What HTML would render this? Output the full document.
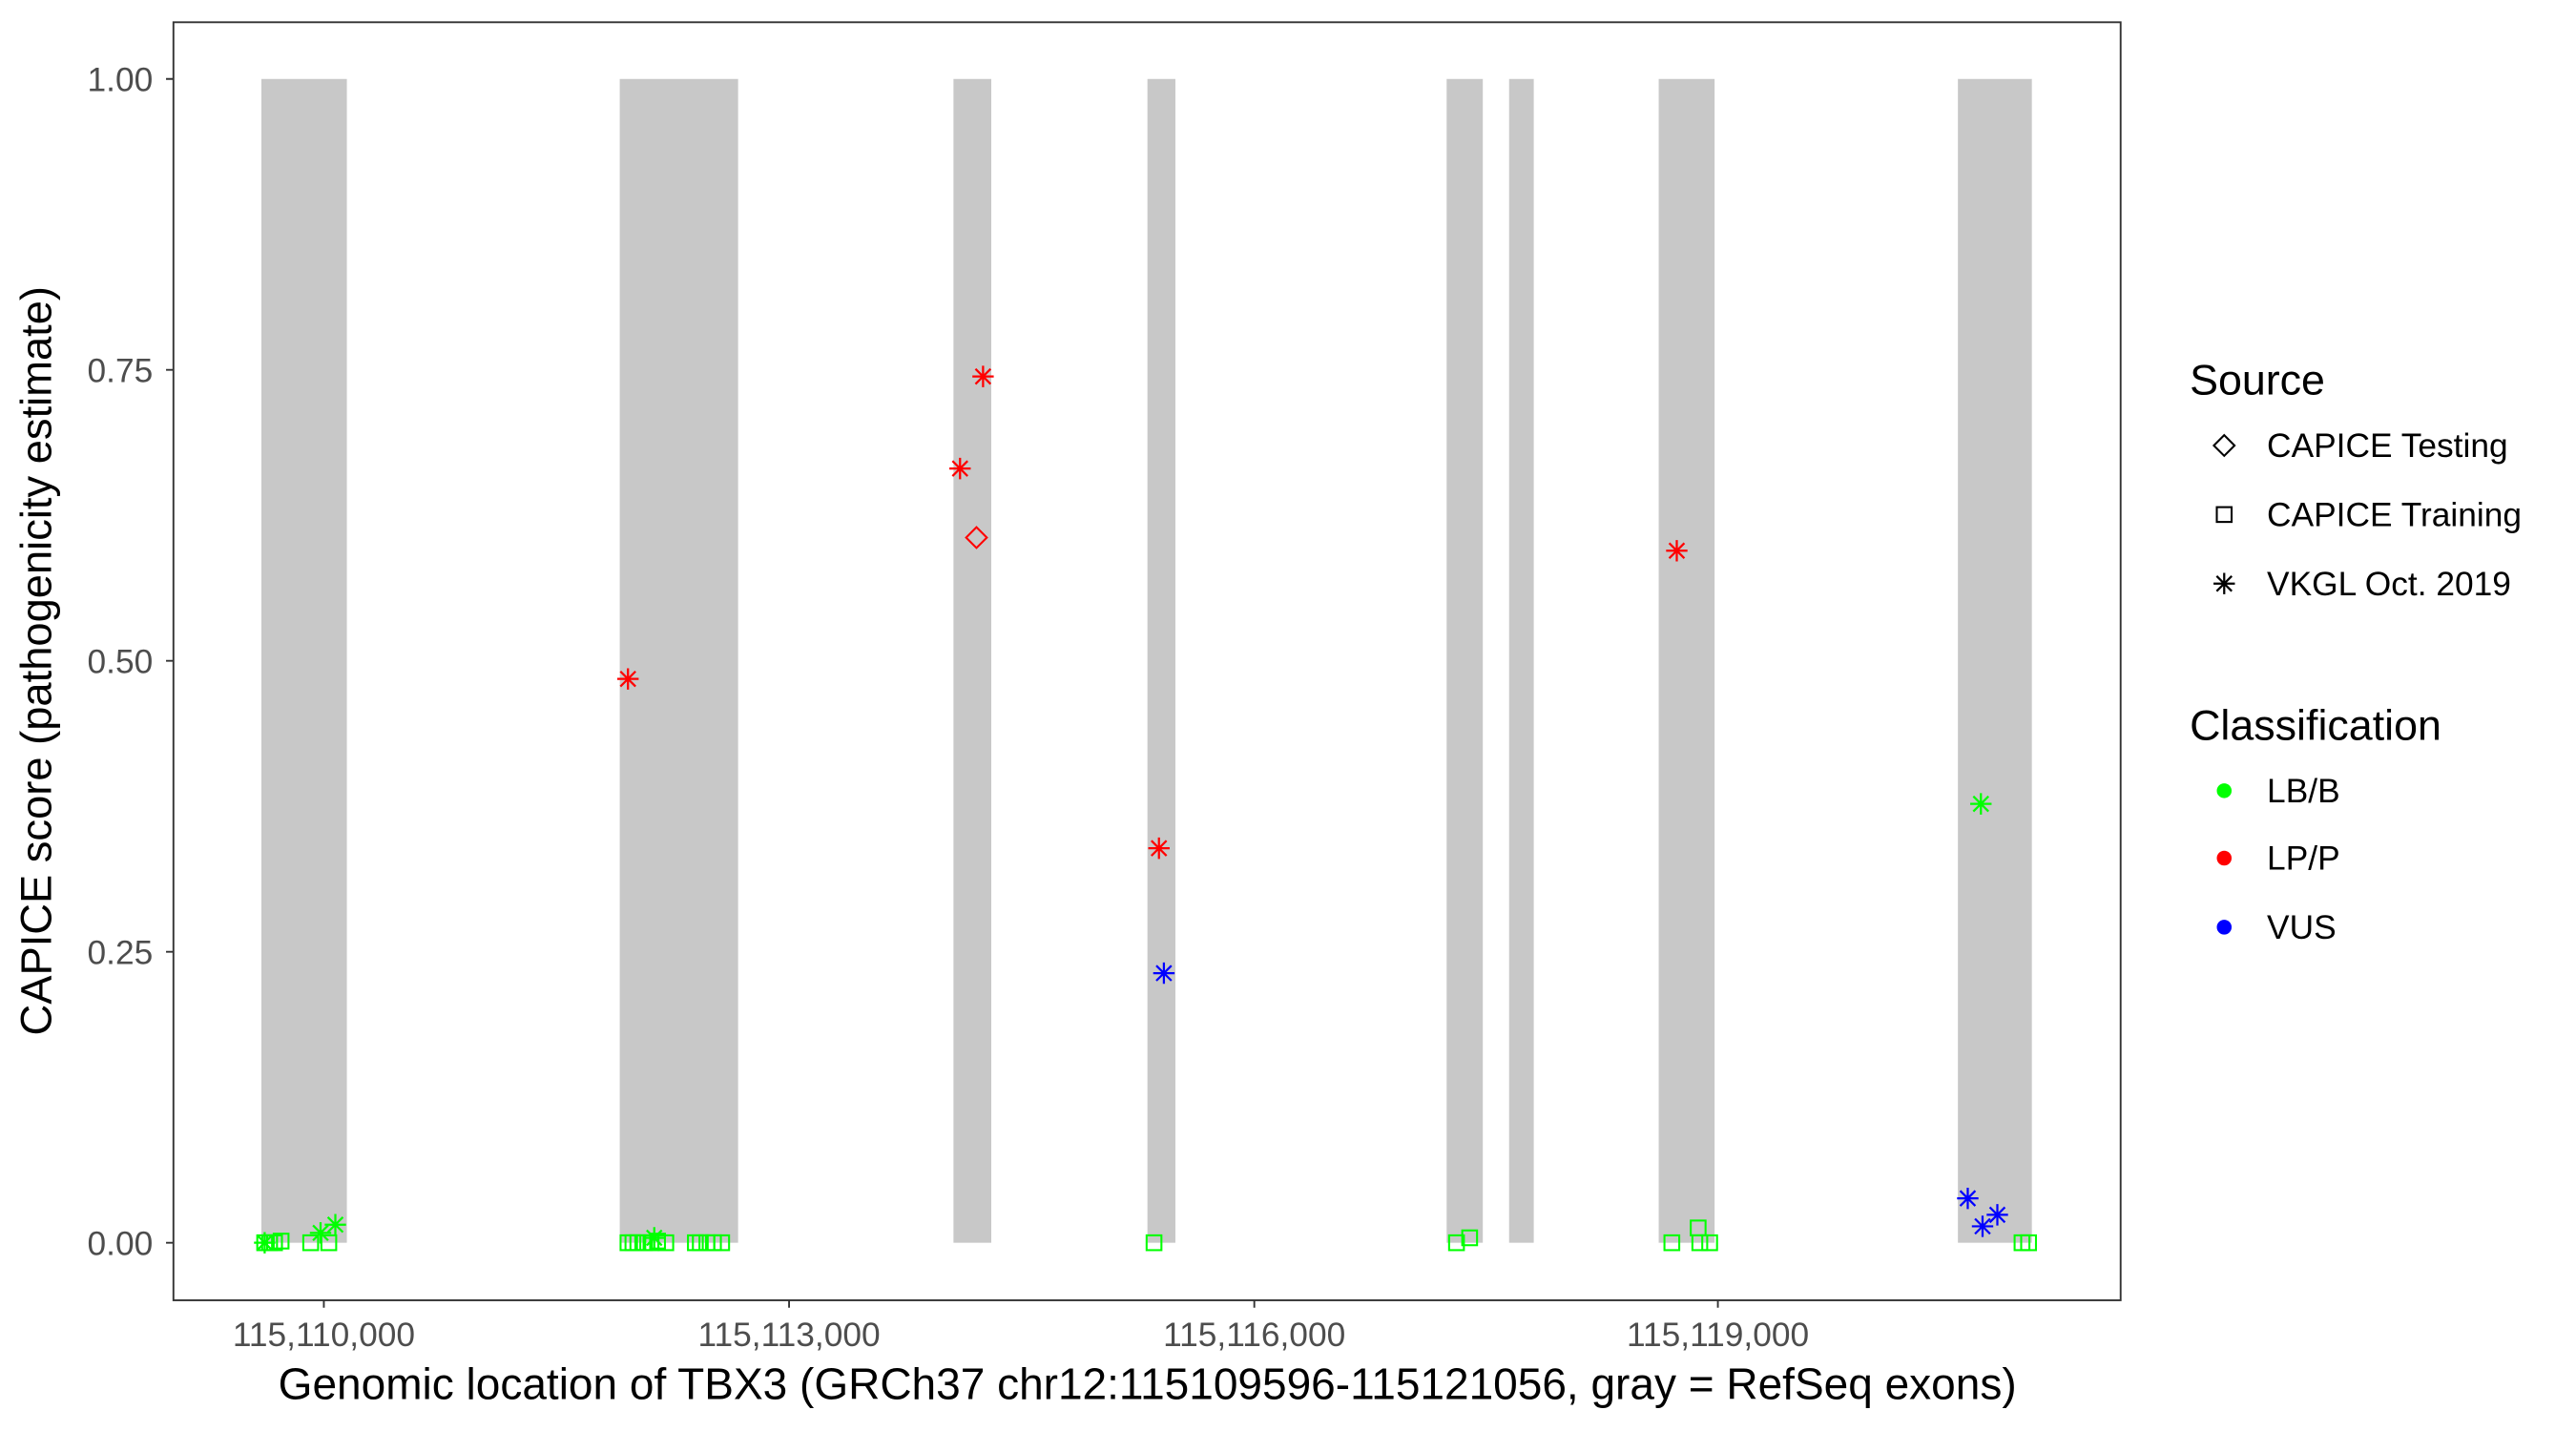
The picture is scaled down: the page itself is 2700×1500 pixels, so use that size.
<!DOCTYPE html>
<html><head><meta charset="utf-8"><style>html,body{margin:0;padding:0;background:#fff}svg{display:block}</style></head>
<body>
<svg width="2700" height="1500" viewBox="0 0 1567 870.5" xmlns="http://www.w3.org/2000/svg" font-family="Liberation Sans, sans-serif">
<defs>
<g id="st"><path d="M-6.5,0H6.5M0,-6.5V6.5M-4.6,-4.6L4.6,4.6M-4.6,4.6L4.6,-4.6" stroke-width="1.3" fill="none"/></g>
<g id="sq"><rect x="-4.5" y="-4.5" width="9" height="9" fill="none" stroke-width="1.2"/></g>
<g id="dm"><path d="M0,-6.3L6.3,0L0,6.3L-6.3,0Z" fill="none" stroke-width="1.2"/></g>
</defs>
<rect width="1567" height="870.5" fill="#fff"/>
<g fill="#c8c8c8">
<rect x="159" y="48" width="52" height="708"/>
<rect x="377" y="48" width="72" height="708"/>
<rect x="580" y="48" width="23" height="708"/>
<rect x="698" y="48" width="17" height="708"/>
<rect x="880" y="48" width="22" height="708"/>
<rect x="918" y="48" width="15" height="708"/>
<rect x="1009" y="48" width="34" height="708"/>
<rect x="1191" y="48" width="45" height="708"/>
</g>
<g stroke="#00ff00">
<use href="#sq" x="161" y="756"/><use href="#sq" x="164" y="756"/><use href="#sq" x="167" y="756"/><use href="#sq" x="171" y="755"/><use href="#sq" x="189" y="756"/><use href="#sq" x="200" y="756"/>
<use href="#st" x="161" y="756"/><use href="#st" x="195" y="750"/><use href="#st" x="204" y="745"/>
<use href="#sq" x="382" y="756"/><use href="#sq" x="385" y="756"/><use href="#sq" x="388" y="756"/><use href="#sq" x="392" y="756"/><use href="#sq" x="396" y="756"/><use href="#sq" x="400" y="755"/><use href="#sq" x="405" y="756"/><use href="#st" x="398" y="753"/>
<use href="#sq" x="423" y="756"/><use href="#sq" x="426" y="756"/><use href="#sq" x="430" y="756"/><use href="#sq" x="434" y="756"/><use href="#sq" x="439" y="756"/>
<use href="#sq" x="702" y="756"/><use href="#sq" x="886" y="756"/><use href="#sq" x="894" y="753"/>
<use href="#sq" x="1017" y="756"/><use href="#sq" x="1033" y="747"/><use href="#sq" x="1034" y="756"/><use href="#sq" x="1040" y="756"/>
<use href="#sq" x="1230" y="756"/><use href="#sq" x="1234" y="756"/>
<use href="#st" x="1205" y="489"/>
</g>
<g stroke="#ff0000">
<use href="#st" x="382" y="413"/><use href="#st" x="584" y="285"/><use href="#st" x="598" y="229"/><use href="#st" x="705" y="516"/><use href="#st" x="1020" y="335"/>
<use href="#dm" x="594" y="327"/>
</g>
<g stroke="#0000ff">
<use href="#st" x="708" y="592"/><use href="#st" x="1197" y="729"/><use href="#st" x="1206" y="746"/><use href="#st" x="1215" y="739"/>
</g>
<rect x="105.5" y="13.5" width="1184.5" height="777.5" fill="none" stroke="#333" stroke-width="1.1"/>
<g stroke="#333" stroke-width="1.1">
<path d="M101,48H105.5M101,225H105.5M101,402H105.5M101,579H105.5M101,756H105.5"/>
<path d="M197,791V795.5M480,791V795.5M763,791V795.5M1045,791V795.5"/>
</g>
<g fill="#4d4d4d" font-size="20.5" text-anchor="end">
<text x="93" y="55.5">1.00</text><text x="93" y="232.5">0.75</text><text x="93" y="409.5">0.50</text><text x="93" y="586.5">0.25</text><text x="93" y="763.5">0.00</text>
</g>
<g fill="#4d4d4d" font-size="20.5" text-anchor="middle">
<text x="197" y="819">115,110,000</text><text x="480" y="819">115,113,000</text><text x="763" y="819">115,116,000</text><text x="1045" y="819">115,119,000</text>
</g>
<text x="698" y="851" font-size="26.7" text-anchor="middle">Genomic location of TBX3 (GRCh37 chr12:115109596-115121056, gray = RefSeq exons)</text>
<text transform="translate(31,402) rotate(-90)" font-size="26.3" text-anchor="middle">CAPICE score (pathogenicity estimate)</text>
<text x="1332" y="240" font-size="26">Source</text>
<g stroke="#000"><use href="#dm" x="1353" y="271"/><use href="#sq" x="1353" y="313"/><use href="#st" x="1353" y="355"/></g>
<g font-size="20.5"><text x="1379" y="278">CAPICE Testing</text><text x="1379" y="320">CAPICE Training</text><text x="1379" y="362">VKGL Oct. 2019</text></g>
<text x="1332" y="450" font-size="26">Classification</text>
<circle cx="1353" cy="481" r="4.5" fill="#00ff00"/><circle cx="1353" cy="522" r="4.5" fill="#ff0000"/><circle cx="1353" cy="564" r="4.5" fill="#0000ff"/>
<g font-size="20.5"><text x="1379" y="488">LB/B</text><text x="1379" y="529">LP/P</text><text x="1379" y="571">VUS</text></g>
</svg>
</body></html>
